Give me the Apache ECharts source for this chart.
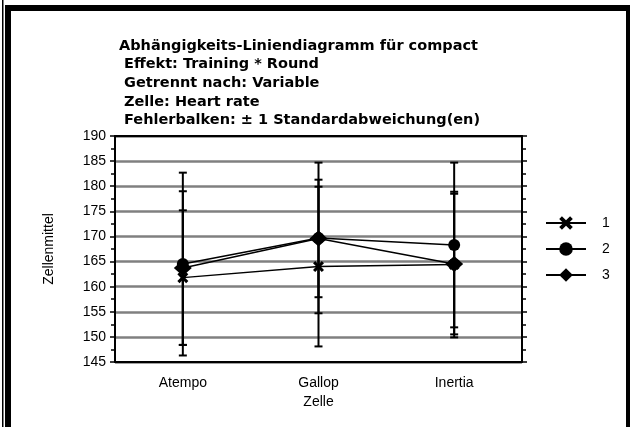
<!DOCTYPE html>
<html>
<head>
<meta charset="utf-8">
<script src="https://cdn.jsdelivr.net/npm/echarts@6/dist/echarts.min.js"></script>
<style>
  html, body { margin: 0; padding: 0; background: #fff; }
  #chart { width: 630px; height: 427px; }
</style>
</head>
<body>
<div id="chart"></div>
<script>
// Data
const categories = ['Atempo', 'Gallop', 'Inertia'];
const seriesNames = ['1', '2', '3'];
const means1 = [161.8, 164.0, 164.4];
const means2 = [164.5, 169.7, 168.3];
const means3 = [163.7, 169.6, 164.5];
const sd1 = [13.4, 15.9, 14.5];
const sd2 = [18.2, 15.0, 16.4];
const sd3 = [15.3, 11.7, 14.0];
const titleLines = [
    'Abhängigkeits-Liniendiagramm für compact',
    'Effekt: Training * Round',
    'Getrennt nach: Variable',
    'Zelle: Heart rate',
    'Fehlerbalken: \u00b1 1 Standardabweichung(en)'
];

const crossPath = 'path://M0,2 L2,0 L5,3 L8,0 L10,2 L7,5 L10,8 L8,10 L5,7 L2,10 L0,8 L3,5 Z';
const font = 'Liberation Sans, Arial, sans-serif';

// error bar data: [categoryIndex, low, high]
function errData(means, sds) {
    return means.map((m, i) => [i, m - sds[i], m + sds[i]]);
}

function renderErr(params, api) {
    const x = api.value(0);
    const lo = api.coord([x, api.value(1)]);
    const hi = api.coord([x, api.value(2)]);
    const w = 4;
    const style = { stroke: '#000', lineWidth: 2 };
    return {
        type: 'group',
        children: [
            { type: 'line', shape: { x1: lo[0], y1: lo[1], x2: hi[0], y2: hi[1] }, style: style },
            { type: 'line', shape: { x1: hi[0] - w, y1: hi[1], x2: hi[0] + w, y2: hi[1] }, style: style },
            { type: 'line', shape: { x1: lo[0] - w, y1: lo[1], x2: lo[0] + w, y2: lo[1] }, style: style }
        ]
    };
}

const errSeries = [[means1, sd1], [means2, sd2], [means3, sd3]].map(p => ({
    type: 'custom',
    renderItem: renderErr,
    data: errData(p[0], p[1]),
    encode: { x: 0, y: [1, 2] },
    clip: true,
    z: 1,
    silent: true
}));

const symbols = [crossPath, 'circle', 'diamond'];
const sizes = [11, 12, [18, 16]];
const lineSeries = [means1, means2, means3].map((d, i) => ({
    name: seriesNames[i],
    type: 'line',
    data: d,
    symbol: symbols[i],
    symbolSize: sizes[i],
    showAllSymbol: true,
    itemStyle: { color: '#000' },
    lineStyle: { color: '#000', width: 1.5 },
    z: 3
}));

const titleStyle = { fontFamily: 'DejaVu Sans', fontSize: 14.5, fontWeight: 'bold', color: '#000' };

const chart = echarts.init(document.getElementById('chart'), null, { renderer: 'canvas' });
chart.setOption({
    animation: false,
    backgroundColor: '#fff',
    textStyle: { fontFamily: font },
    title: [{
        text: titleLines[0],
        left: 119, top: 39, padding: 0,
        textStyle: titleStyle
    }, {
        text: titleLines.slice(1).join('\n'),
        left: 124, top: 55, padding: 0,
        textStyle: Object.assign({ lineHeight: 18.7 }, titleStyle)
    }],
    legend: {
        orient: 'vertical',
        left: 540, top: 211,
        itemWidth: 40, itemHeight: 17, itemGap: 12,
        data: seriesNames,
        textStyle: { fontSize: 14, color: '#000', padding: [0, 0, 0, 11] }
    },
    grid: { left: 115, right: 108, top: 136, bottom: 65 },
    xAxis: [{
        type: 'category',
        data: categories,
        boundaryGap: true,
        name: 'Zelle',
        nameLocation: 'middle',
        nameGap: 31,
        nameTextStyle: { fontSize: 14, color: '#000' },
        axisLine: { lineStyle: { color: '#000', width: 2 } },
        axisTick: { alignWithLabel: true, length: 5, lineStyle: { color: '#000', width: 1.5 } },
        axisLabel: { fontSize: 14, color: '#000', margin: 14 },
        splitLine: { show: false }
    }, {
        type: 'category',
        data: categories,
        position: 'top',
        boundaryGap: true,
        axisLine: { lineStyle: { color: '#000', width: 2 } },
        axisTick: { alignWithLabel: true, length: 5, lineStyle: { color: '#000', width: 1.5 } },
        axisLabel: { show: false },
        splitLine: { show: false }
    }],
    yAxis: [{
        type: 'value',
        min: 145, max: 190, interval: 5,
        name: 'Zellenmittel',
        nameLocation: 'middle',
        nameGap: 59,
        nameTextStyle: { fontSize: 14, color: '#000' },
        axisLine: { show: true, lineStyle: { color: '#000', width: 2 } },
        axisTick: { show: true, length: 5, lineStyle: { color: '#000', width: 1.5 } },
        minorTick: { show: true, splitNumber: 2, length: 4, lineStyle: { color: '#000', width: 1.5 } },
        axisLabel: { fontSize: 14, color: '#000', margin: 9 },
        splitLine: { show: true, lineStyle: { color: '#808080', width: 2.5 } }
    }, {
        type: 'value',
        position: 'right',
        min: 145, max: 190, interval: 5,
        axisLine: { show: true, lineStyle: { color: '#000', width: 2 } },
        axisTick: { show: true, length: 5, lineStyle: { color: '#000', width: 1.5 } },
        minorTick: { show: true, splitNumber: 2, length: 4, lineStyle: { color: '#000', width: 1.5 } },
        axisLabel: { show: false },
        splitLine: { show: false }
    }],
    graphic: [
        { type: 'rect', shape: { x: 2, y: 0, width: 1.5, height: 427 }, style: { fill: '#000' } },
        { type: 'rect', shape: { x: 5, y: 5, width: 625, height: 6 }, style: { fill: '#000' } },
        { type: 'rect', shape: { x: 5, y: 5, width: 6, height: 422 }, style: { fill: '#000' } },
        { type: 'rect', shape: { x: 626, y: 5, width: 4, height: 422 }, style: { fill: '#000' } }
    ],
    series: errSeries.concat(lineSeries)
});
</script>
</body>
</html>
